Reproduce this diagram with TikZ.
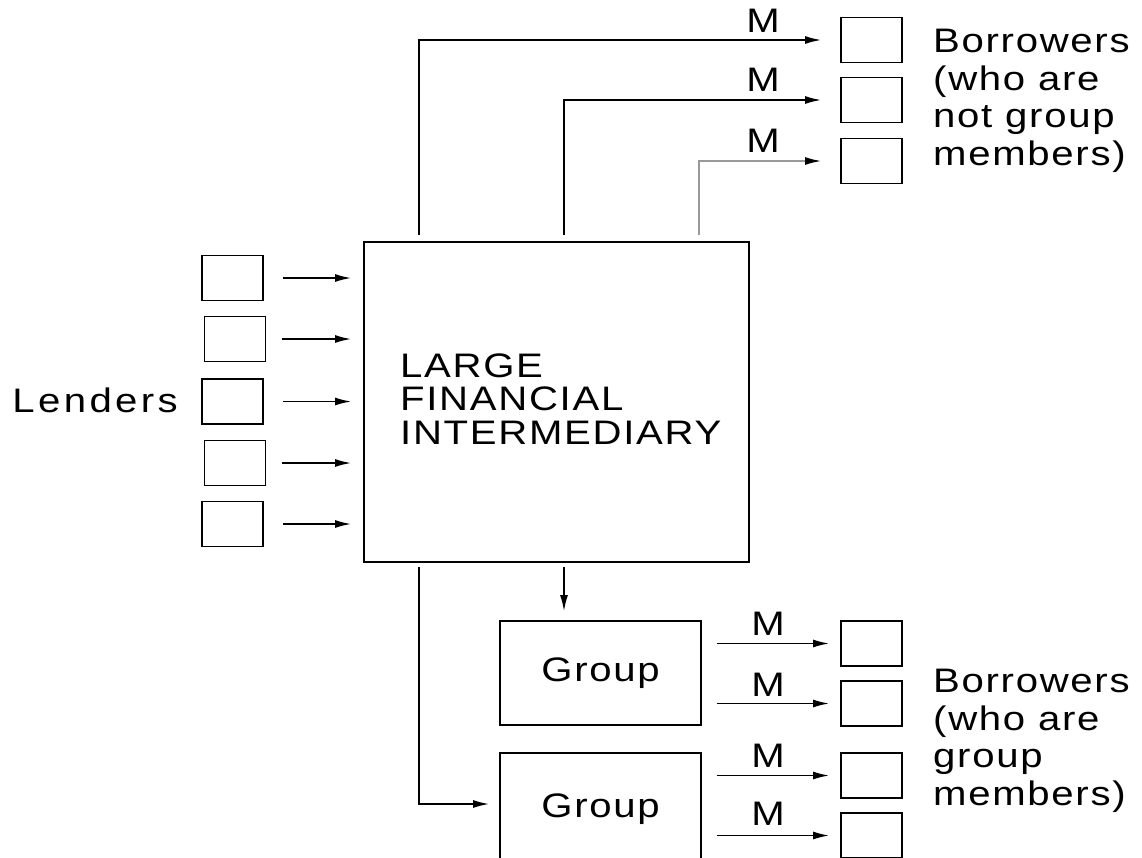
\documentclass[tikz,border=0pt]{standalone}
\usepackage{fontspec}
\setmainfont{Liberation Sans}[FakeStretch=1.18,LetterSpace=5]
\usetikzlibrary{arrows.meta}
\begin{document}
\begin{tikzpicture}[x=1pt,y=-1pt,
  every node/.style={inner sep=0pt, font=\fontsize{34}{37.5}\selectfont},
  sbox/.style={draw, line width=1.8pt, minimum width=61pt, minimum height=45pt},
  gbox/.style={draw, line width=1.8pt, minimum width=201pt, minimum height=104pt},
  arr/.style={line width=1.6pt, -{Latex[length=16pt,width=8pt]}},
  lbl/.style={anchor=base},
  txt/.style={anchor=base west, align=left},
]
\useasboundingbox (0,0) rectangle (1142,857);
\clip (0,0) rectangle (1142,857);

% large intermediary
\node[draw, line width=1.8pt, minimum width=385pt, minimum height=320pt] (big) at (556.5,402) {};
\node[txt, font=\fontsize{34}{33.5}\selectfont] (bigtxt) at (400,444) {LARGE\\FINANCIAL\\INTERMEDIARY};

% lenders
\node[anchor=base east] (lend) at (178,412) {\addfontfeature{LetterSpace=10}Lenders};
\node[sbox] (l1) at (232.5,278) {};
\node[sbox] (l2) at (235,339) {};
\node[sbox] (l3) at (232.5,401.5) {};
\node[sbox] (l4) at (235,463) {};
\node[sbox] (l5) at (232.5,524) {};
\foreach \i/\s in {1/19,2/16,3/19,4/16,5/19}
  \draw[arr, shorten <=\s pt, shorten >=12pt] (l\i.east) -- (l\i.east -| big.west);

% top borrowers
\node[sbox] (b1) at (871.5,40) {};
\node[sbox] (b2) at (871.5,100) {};
\node[sbox] (b3) at (871.5,161) {};
\node[txt] (btop) at (933,165) {Borrowers\\(who are\\not group\\members)};
\coordinate (c1) at (419,235);
\coordinate (c2) at (564,235);
\coordinate (c3) at (699,235);
\draw[arr, shorten >=19pt] (c1) |- (b1.west);
\draw[arr, shorten >=19pt] (c2) |- (b2.west);
\draw[line width=1.6pt, draw=black!40, -{Latex[length=16pt,width=8pt,color=black]}, shorten >=19pt] (c3) |- (b3.west);
\node[lbl] (m1) at (763,32) {M};
\node[lbl] (m2) at (763,91) {M};
\node[lbl] (m3) at (763,152) {M};

% groups
\node[gbox] (g1) at (600.5,673) {Group};
\node[gbox, minimum height=112pt] (g2) at (600.5,809) {\raisebox{4pt}{Group}};
\coordinate (c4) at (419,567);
\coordinate (c5) at (564,567);
\draw[arr, shorten >=10pt] (c4) |- ([yshift=5pt]g2.west);
\draw[arr, shorten >=9pt] (c5) -- (c5 |- g1.north);

% group borrowers
\node[sbox] (s1) at (871.5,643.5) {};
\node[sbox] (s2) at (871.5,703.5) {};
\node[sbox] (s3) at (871.5,775.5) {};
\node[sbox] (s4) at (871.5,835.5) {};
\draw[arr, shorten <=15pt, shorten >=11pt] (s1.west -| g1.east) -- (s1.west);
\draw[arr, shorten <=15pt, shorten >=11pt] (s2.west -| g1.east) -- (s2.west);
\draw[arr, shorten <=15pt, shorten >=11pt] (s3.west -| g2.east) -- (s3.west);
\draw[arr, shorten <=15pt, shorten >=11pt] (s4.west -| g2.east) -- (s4.west);
\node[lbl] (m4) at (768,635) {M};
\node[lbl] (m5) at (768,696) {M};
\node[lbl] (m6) at (768,767) {M};
\node[lbl] (m7) at (768,825) {M};
\node[txt] (bbot) at (933,805) {Borrowers\\(who are\\group\\members)};
\end{tikzpicture}
\end{document}
